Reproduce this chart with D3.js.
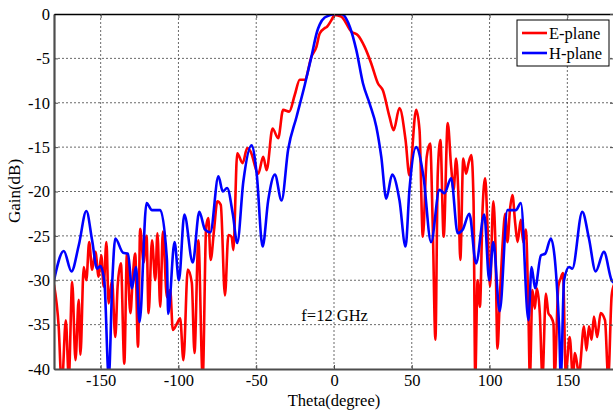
<!DOCTYPE html>
<html>
<head>
  <meta charset="utf-8">
  <title>E-plane / H-plane gain at 12 GHz</title>
  <style>
    body { margin: 0; padding: 0; background: white; }
    svg { display: block; }
    text { font-family: "Liberation Serif", "Times New Roman", serif; fill: black; }
    .grid line { stroke: #444; stroke-width: 0.8; stroke-dasharray: 2, 2; }
    .axis path, .axis line { stroke: #4d4d4d; stroke-width: 1; }
    .curve { fill: none; stroke-width: 2.6; stroke-linejoin: round; }
  </style>
</head>
<body>
  <div id="chart"></div>

  <script src="https://d3js.org/d3.v7.min.js"></script>
  <script>

  // ####### DATA #######
  var xTicks = [-150, -100, -50, 0, 50, 100, 150]
  var yTicks = [0, -5, -10, -15, -20, -25, -30, -35, -40]
  var seriesNames = ["E-plane", "H-plane"]
  var seriesColors = ["#ff0000", "#0000ff"]

  // E-plane : [theta, gain dB]
  var ePlane = [
    [-180, -30.5], [-177, -35.2], [-175, -42], [-172.4, -34.5], [-170.5, -41], [-168.3, -30.2],
    [-166.2, -39], [-164.1, -32.2], [-163, -38.4], [-160.9, -28.5], [-159.2, -30], [-157.4, -25.7],
    [-155.5, -28.8], [-153.4, -26.8], [-151.3, -29.6], [-149.6, -27.2], [-148.1, -30.7], [-146.3, -25.7],
    [-144.9, -32.6], [-142.7, -30], [-140.6, -36.4], [-139.1, -30.7], [-137, -28.1], [-134.8, -39.4],
    [-133.1, -27], [-130.9, -33.7], [-129.2, -29.2], [-127.8, -27], [-126, -37.5], [-124.6, -24.2],
    [-122.4, -28], [-120.5, -25], [-119.2, -33.7], [-117, -25.5], [-114.9, -30], [-113.5, -24.7],
    [-111.7, -33], [-110, -24.5], [-107.4, -31.9], [-105.3, -31.1], [-103.6, -35.6], [-101, -34.9],
    [-98.9, -34.3], [-96.8, -39], [-94, -28.8], [-91.4, -30.3], [-89.7, -38.2], [-87.2, -25.5],
    [-84.4, -41], [-82.2, -24], [-80.8, -23], [-79.3, -27.7], [-77.1, -24.3], [-75, -21.1],
    [-72.8, -21.5], [-70.1, -31.7], [-67.9, -24.9], [-65.8, -25.1], [-64.7, -26.6], [-62.2, -15.7],
    [-58.7, -16.8], [-55.8, -15.1], [-53.6, -15.5], [-48.7, -18], [-45.5, -16.1], [-43.3, -17.6],
    [-39.5, -12.9], [-35.9, -14], [-32.7, -10.8], [-28.8, -11], [-25.2, -9.1], [-22, -7.4],
    [-18.8, -7.4], [-14.5, -4.8], [-11.3, -3.7], [-9.2, -2.2], [-6, -1.6], [-4.9, -1.5],
    [-1.7, -0.7], [0.4, -0.1], [4.7, -0.3], [11.2, -2], [15.4, -2.4], [19.7, -3.7],
    [24, -5.6], [28.2, -7.8], [31.4, -8.6], [35.7, -11.6], [38.3, -13.1], [42.1, -10.6],
    [46, -14.2], [48.5, -18.2], [52.8, -10.8], [55, -13.1], [57.1, -25.1], [59.6, -16.1],
    [61.8, -14.6], [63.5, -24], [65.2, -36.7], [66.7, -18], [68.4, -14.2], [70.5, -25.1],
    [73.1, -12.3], [75.3, -17.2], [76.9, -19.8], [78.5, -16.3], [80.1, -21], [81.2, -27.7],
    [83.1, -16.3], [84.9, -18], [86.5, -16.8], [88.3, -15.9], [89.7, -21], [90.8, -41],
    [92.3, -30], [93.8, -33], [95.5, -22.1], [97.2, -18.5], [98.7, -24], [100.3, -30.7],
    [102.4, -21.1], [103.7, -25.5], [105.1, -37.7], [106.7, -31.5], [108.3, -26.2], [110.1, -22.5],
    [111.5, -25.7], [113.1, -22.1], [114.7, -20.4], [116.5, -23.6], [118, -25.7], [120.1, -23.2],
    [121.6, -25.7], [123.3, -24.3], [125, -33.7], [125.9, -41], [127.6, -31.1], [129.1, -33.2],
    [130.4, -30.9], [132.3, -33.7], [134, -41], [136.2, -31.5], [137.8, -33.7], [139.4, -34.1],
    [141.1, -34.9], [141.8, -41], [144.2, -30.7], [145.7, -29.8], [147.2, -29.2], [149, -40.5],
    [151.5, -36.4], [153.6, -41], [154.9, -38.2], [157.5, -40.5], [160.7, -35.2], [162.3, -37.9],
    [163.9, -35.2], [165.6, -36.7], [167.1, -34.1], [169.2, -36.4], [171.4, -33.7], [174.2, -34.5],
    [176.3, -41], [178.5, -31.7], [180, -30.5]
  ]

  // H-plane : [theta, gain dB]
  var hPlane = [
    [-180, -30], [-173.7, -26.7], [-168.8, -29], [-164, -26], [-159.2, -22.2], [-155.5, -25.5],
    [-152.3, -28.7], [-150.2, -28.4], [-147.6, -30.2], [-144.8, -41], [-142.5, -30], [-140.6, -25.3],
    [-135.6, -26.9], [-132.4, -27], [-129.9, -30.9], [-127.3, -28.5], [-125, -34.7], [-120.5, -21.3],
    [-117, -22.1], [-111.7, -22.1], [-107.4, -27.7], [-106.6, -33.8], [-102.5, -25.7], [-99.7, -30],
    [-96.2, -22.6], [-90.8, -28], [-86.6, -22.3], [-82.9, -24.3], [-79.5, -24.6], [-74.3, -18.3],
    [-71.5, -20], [-68.7, -19.6], [-65, -22.6], [-62.2, -25.8], [-58.3, -18.9], [-53, -14.8],
    [-49.7, -18], [-45.9, -26.2], [-42.3, -21], [-38, -18.1], [-33.7, -21], [-29.5, -15.3],
    [-24.1, -11.6], [-18.8, -8], [-14.5, -4.8], [-10.9, -2], [-9.2, -1.2], [-6, -0.4],
    [-4.9, -0.3], [0.4, 0], [4.7, 0], [10.1, -1.4], [14.4, -4.1], [18.6, -7.8],
    [22.9, -10.1], [27.2, -12.7], [30.4, -16.1], [33.6, -20.8], [37.4, -18.1], [42.1, -21],
    [46, -26.2], [48.5, -19.8], [52.8, -15], [57.5, -18.3], [62.4, -25.7], [67.8, -19.8],
    [71, -20.2], [75.3, -18.5], [79.5, -24.7], [82.7, -24.3], [87, -22.5], [91.3, -28.1],
    [96.6, -22.6], [99.8, -30], [102.4, -25.7], [106.5, -33.5], [111.5, -22.1], [116.9, -22.1],
    [120.1, -21.3], [125, -34.5], [127, -28.5], [129.3, -30.9], [133, -27.2], [135.8, -27],
    [139.4, -25.3], [144.7, -35.2], [145.8, -41], [147.9, -30], [151.1, -28.5], [153.2, -28.7],
    [159.6, -22.3], [163.9, -25.3], [168.2, -29], [173.5, -26.8], [178.5, -30], [180, -30.3]
  ]

  // ####### SIZE & MARGINS #######
  var width = 613,
      height = 412,
      margin = { top: 14, right: -1, bottom: 43, left: 54 }

  var x = d3.scaleLinear().domain([-180, 180]).range([margin.left, width - margin.right])
  var y = d3.scaleLinear().domain([-40, 0]).range([height - margin.bottom, margin.top])

  // plain hyphen minus, like the original figure
  var plainFormat = function (d) { return String(d) }

  var svg = d3.select("#chart")
    .append("svg")
    .attr("width", width)
    .attr("height", height)

  svg.append("defs").append("clipPath")
    .attr("id", "plot-clip")
    .append("rect")
    .attr("x", x(-180)).attr("y", y(0))
    .attr("width", x(180) - x(-180)).attr("height", y(-40) - y(0))

  // ####### DOTTED GRID #######
  var grid = svg.append("g").attr("class", "grid")
  grid.selectAll(".gx")
    .data(xTicks).enter().append("line")
    .attr("x1", function (d) { return x(d) }).attr("x2", function (d) { return x(d) })
    .attr("y1", y(0)).attr("y2", y(-40))
  grid.selectAll(".gy")
    .data(yTicks.filter(function (d) { return d > -40 && d < 0 })).enter().append("line")
    .attr("x1", x(-180)).attr("x2", x(180))
    .attr("y1", function (d) { return y(d) }).attr("y2", function (d) { return y(d) })

  // ####### CURVES #######
  var line = d3.line()
    .x(function (d) { return x(d[0]) })
    .y(function (d) { return y(d[1]) })
    .curve(d3.curveMonotoneX)

  var plot = svg.append("g").attr("clip-path", "url(#plot-clip)")
  plot.selectAll(".curve")
    .data([ePlane, hPlane]).enter().append("path")
    .attr("class", "curve")
    .attr("stroke", function (d, i) { return seriesColors[i] })
    .attr("d", line)

  // ####### AXES (ticks pointing inward, MATLAB style) #######
  svg.append("g").attr("class", "axis")
    .attr("transform", "translate(0," + y(-40) + ")")
    .call(d3.axisBottom(x).tickValues(xTicks).tickSize(-4).tickSizeOuter(0).tickPadding(5).tickFormat(plainFormat))
  svg.append("g").attr("class", "axis")
    .attr("transform", "translate(" + x(-180) + ",0)")
    .call(d3.axisLeft(y).tickValues(yTicks).tickSize(-4).tickSizeOuter(0).tickPadding(4).tickFormat(plainFormat))
  svg.append("g").attr("class", "axis top")
    .attr("transform", "translate(0," + y(0) + ")")
    .call(d3.axisTop(x).tickValues(xTicks).tickSize(-4).tickSizeOuter(0).tickFormat(""))
  svg.append("g").attr("class", "axis right")
    .attr("transform", "translate(" + x(180) + ",0)")
    .call(d3.axisRight(y).tickValues(yTicks).tickSize(-4).tickSizeOuter(0).tickFormat(""))

  svg.selectAll(".axis .domain").style("stroke-width", 2.2)
  svg.selectAll(".axis.top .domain").style("stroke", "black").style("stroke-width", 1.5)
  svg.selectAll(".axis text").style("font-size", "16.5px")

  // ####### AXIS LABELS #######
  svg.append("text")
    .attr("x", 334).attr("y", 406)
    .attr("text-anchor", "middle")
    .style("font-size", "16.5px")
    .text("Theta(degree)")
  svg.append("text")
    .attr("transform", "translate(20," + 191 + ") rotate(-90)")
    .attr("text-anchor", "middle")
    .style("font-size", "17px")
    .text("Gain(dB)")

  svg.append("text")
    .attr("x", x(-21)).attr("y", 321)
    .style("font-size", "16.5px")
    .text("f=12 GHz")

  // ####### LEGEND #######
  var legend = svg.append("g").attr("transform", "translate(517,20)")
  legend.append("rect")
    .attr("width", 92).attr("height", 46)
    .attr("fill", "white").attr("stroke", "black").attr("stroke-width", 1)
  var items = legend.selectAll(".item")
    .data(seriesNames).enter().append("g")
    .attr("transform", function (d, i) { return "translate(0," + (13 + i * 20) + ")" })
  items.append("line")
    .attr("x1", 5).attr("x2", 30)
    .attr("stroke", function (d, i) { return seriesColors[i] })
    .attr("stroke-width", 2.6)
  items.append("text")
    .attr("x", 32).attr("y", 5.5)
    .style("font-size", "16.5px")
    .text(function (d) { return d })

  </script>
</body>
</html>
